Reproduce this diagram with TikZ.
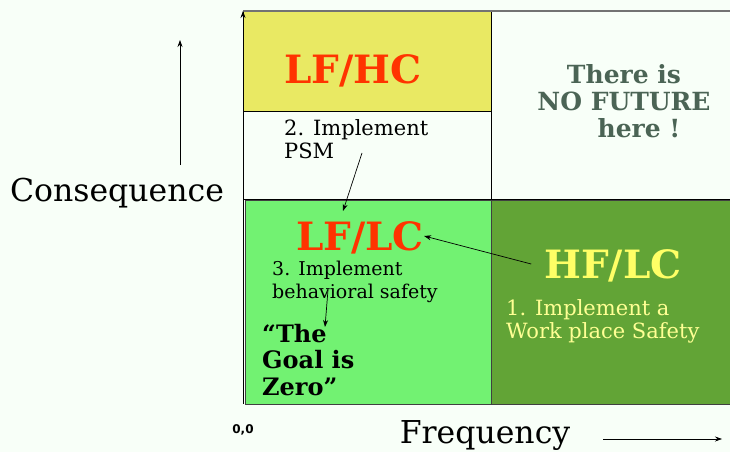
\documentclass[tikz,border=0pt]{standalone}
\usepackage{fontspec}
\setmainfont{DejaVu Serif}
\setsansfont{DejaVu Sans}
\usepackage{xcolor}
\usetikzlibrary{arrows.meta,positioning}

\definecolor{paper}{HTML}{F8FFF8}
\definecolor{hcyellow}{HTML}{E9E963}
\definecolor{lcgreen}{HTML}{72F272}
\definecolor{hfgreen}{HTML}{62A436}
\definecolor{riskred}{HTML}{FF3300}
\definecolor{hfyellow}{HTML}{FFFF66}
\definecolor{notext}{HTML}{4B6455}

\begin{document}
\begin{tikzpicture}[
  x=1pt, y=-1pt,
  cell/.style={draw, line width=0.8pt, anchor=north west, inner sep=0pt},
  tag/.style={font=\bfseries\fontsize{39}{39}\selectfont, text=riskred, inner sep=0pt, text depth=0pt},
  note/.style={font=\fontsize{19}{23}\selectfont, align=left, anchor=north west, inner sep=0pt},
  axislabel/.style={font=\fontsize{31.5}{31.5}\selectfont, inner sep=0pt},
  arr/.style={-{Stealth[length=7pt,width=5pt]}, line width=0.7pt},
]
\useasboundingbox (0,0) rectangle (730,452);
\fill[paper] (0,0) rectangle (730,452);

% Cells of the matrix
\node[cell, fill=hcyellow, minimum width=248pt, minimum height=100pt] (lfhc) at (243,11) {};
\node[cell, fill=paper, minimum width=248pt, minimum height=88pt] (psm) at (243,111) {};
\node[cell, fill=paper, minimum width=245pt, minimum height=188pt] (future) at (491,11) {};
\node[cell, draw=black!75, fill=lcgreen, minimum width=246pt, minimum height=204pt] (lflc) at (245,200) {};
\node[cell, draw=black!75, fill=hfgreen, minimum width=245pt, minimum height=204pt] (hflc) at (491,200) {};
\draw[black!55, line width=1.6pt] (lfhc.north west) -- (730,11);

% Axes
\coordinate (origin) at (243,404);
\draw[arr] (origin) -- (243,11);
\node[font=\sffamily\bfseries\fontsize{12}{12}\selectfont, inner sep=0pt] (zero) at (243,430) {0,0};

\node[axislabel] (conseq) at (117,193) {Consequence};
\coordinate (conseqtail) at (180,165);
\coordinate (conseqhead) at (180,40);
\draw[arr] (conseqtail) -- (conseqhead);

\node[axislabel] (freq) at (485,436) {Frequency};
\coordinate (freqtail) at (603,439);
\coordinate (freqhead) at (722,439);
\draw[arr] (freqtail) -- (freqhead);

% Labels in the cells
\node[tag] (lfhclabel) at (353,69) {LF/HC};
\node[tag] (lflclabel) at (360,236) {LF/LC};
\node[tag, text=hfyellow] (hflclabel) at (613,264) {HF/LC};

\node[note, font=\fontsize{21}{23}\selectfont] (step2) at (284,119) {2. Implement\\PSM};
\node[note] (step3) at (272,261) {3. Implement\\behavioral\ safety};
\node[note, font=\fontsize{21}{23}\selectfont, text=hfyellow!70!white] (step1) at (506,299) {1. Implement a\\Work place Safety};

\node[note, font=\bfseries\fontsize{24}{26.5}\selectfont] (goal) at (262,324) {``The\\Goal is\\Zero''};

\node[font=\bfseries\fontsize{25}{27}\selectfont, text=notext, align=center, inner sep=0pt] (nofuture) at (624,101) {There is\\NO FUTURE\\\hspace*{1.2em}here !};

% Steps between the cells
\coordinate (psmtail) at (362,153);
\draw[arr] (psmtail) -- (343,211);
\draw[arr] (hflclabel.west) ++(-13,0) -- (lflclabel.east);
\coordinate (goaltail) at (328,290);
\draw[arr] (goaltail) -- (325,327);

\end{tikzpicture}
\end{document}
